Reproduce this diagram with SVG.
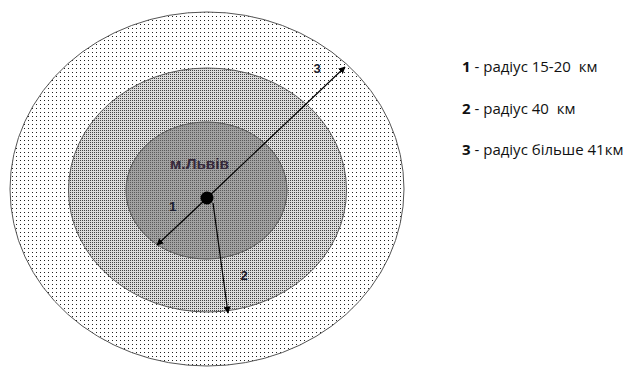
<svg xmlns="http://www.w3.org/2000/svg" width="632" height="368" viewBox="0 0 632 368">
<style>
.ring{stroke:#555;stroke-width:1}
.conn{stroke:#000;stroke-width:1.2;fill:none}
.num{font-family:"Liberation Sans",Arial,sans-serif;font-size:13px;font-weight:bold;fill:#1a1a2a}
.leg{font-family:"Open Sans","Liberation Sans",sans-serif;font-size:15px;fill:#111;white-space:pre}
</style>
<defs>
<pattern id="pOuter" width="4" height="4" patternUnits="userSpaceOnUse">
<rect width="4" height="4" fill="#fff"/><rect width="1" height="1" fill="#222"/>
</pattern>
<pattern id="pMid" width="2" height="2" patternUnits="userSpaceOnUse">
<rect width="2" height="2" fill="#dcdcdc"/><rect width="1" height="1" fill="#444"/>
</pattern>
<pattern id="pIn" width="2" height="2" patternUnits="userSpaceOnUse">
<rect width="2" height="2" fill="#a2a2a2"/><rect width="1" height="1" fill="#5a5a5a"/>
</pattern>
<marker id="ah" viewBox="0 0 10 10" refX="9" refY="5" markerWidth="7" markerHeight="7" markerUnits="userSpaceOnUse" orient="auto">
<path d="M0,0 L10,5 L0,10 z" fill="#000"/>
</marker>
</defs>
<rect width="632" height="368" fill="#fff"/>
<g id="zone3"><ellipse class="ring" cx="207" cy="189" rx="197" ry="177" fill="url(#pOuter)"/></g>
<g id="zone2"><ellipse class="ring" cx="207.5" cy="190" rx="139" ry="122" fill="url(#pMid)"/></g>
<g id="zone1"><ellipse class="ring" cx="206.5" cy="190.5" rx="80.5" ry="68.5" fill="url(#pIn)"/>
<text x="199.5" y="169" text-anchor="middle" font-family="'Liberation Sans',Arial,sans-serif" font-size="14" font-weight="bold" fill="#35283a" textLength="59" lengthAdjust="spacingAndGlyphs">м.Львів</text></g>
<g id="center"><circle cx="207" cy="198" r="6.5" fill="#000"/></g>
<g id="connectors">
<line class="conn" x1="207" y1="198" x2="345" y2="67" marker-end="url(#ah)"/>
<line class="conn" x1="207" y1="198" x2="157" y2="245" marker-end="url(#ah)"/>
<line class="conn" x1="213" y1="203" x2="228" y2="313" marker-end="url(#ah)"/>
</g>
<g id="labels">
<text class="num" x="172.5" y="211" text-anchor="middle">1</text>
<text class="num" x="244" y="280" text-anchor="middle">2</text>
<text class="num" x="317" y="73" text-anchor="middle">3</text>
</g>
<g id="legend">
<text class="leg" x="462" y="72" xml:space="preserve"><tspan font-weight="bold">1</tspan> - радіус 15-20  км</text>
<text class="leg" x="462" y="114" xml:space="preserve"><tspan font-weight="bold">2</tspan> - радіус 40  км</text>
<text class="leg" x="462" y="155" xml:space="preserve"><tspan font-weight="bold">3</tspan> - радіус більше 41км</text>
</g>
</svg>
